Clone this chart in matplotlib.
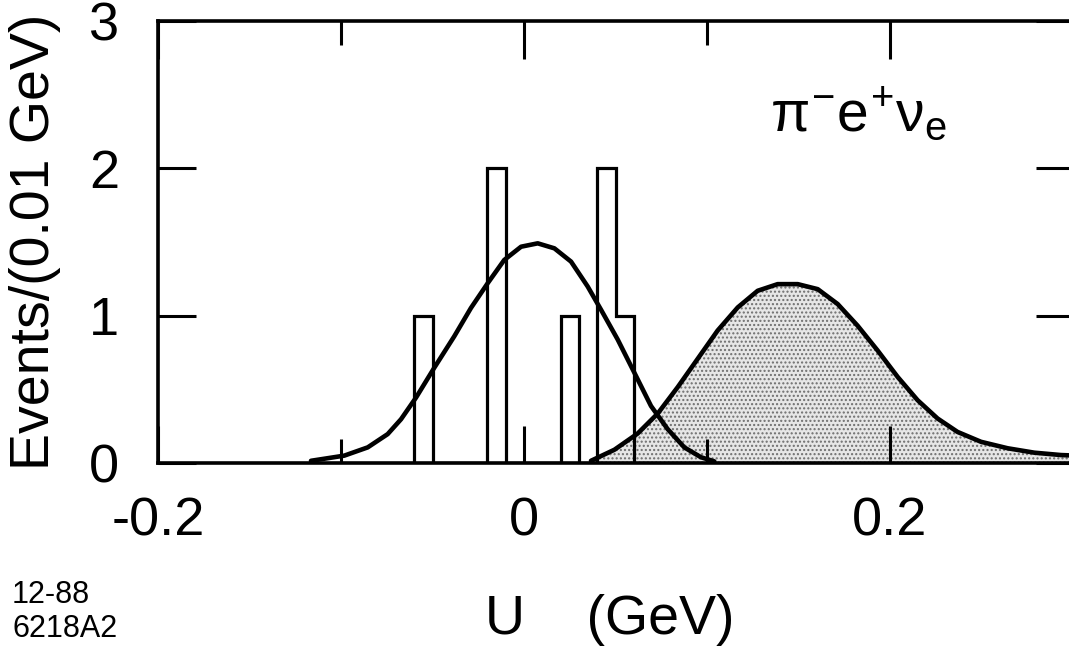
import matplotlib
matplotlib.use("Agg")
import matplotlib.pyplot as plt
from matplotlib.ticker import FixedLocator, FixedFormatter

plt.rcParams['font.family'] = ['Liberation Sans', 'DejaVu Sans']
plt.rcParams['mathtext.fontset'] = 'custom'
plt.rcParams['mathtext.rm'] = 'Liberation Sans'
plt.rcParams['mathtext.it'] = 'Liberation Sans'
plt.rcParams['mathtext.bf'] = 'Liberation Sans:bold'
plt.rcParams['hatch.linewidth'] = 1.0
plt.rcParams['hatch.color'] = '#6e6e6e'

# ---- data ----
bin_edges = [-0.06, -0.05, -0.04, -0.03, -0.02, -0.01, 0.0, 0.01, 0.02, 0.03, 0.04, 0.05, 0.06]
bin_counts = [1, 0, 0, 0, 2, 0, 0, 0, 1, 0, 2, 1]

signal_x = [-0.1164, -0.0982, -0.0854, -0.0745, -0.0672, -0.059, -0.049, -0.0381, -0.029,
            -0.0198, -0.0108, -0.0016, 0.0075, 0.0166, 0.0257, 0.0348, 0.0421, 0.0512,
            0.0603, 0.0694, 0.0785, 0.0876, 0.0967, 0.104]
signal_y = [0.015, 0.05, 0.106, 0.196, 0.297, 0.444, 0.647, 0.86, 1.052,
            1.221, 1.378, 1.468, 1.491, 1.457, 1.367, 1.198, 1.04, 0.838,
            0.613, 0.387, 0.23, 0.106, 0.039, 0.011]

bkg_x = [0.0366, 0.0494, 0.0621, 0.0731, 0.084, 0.0949, 0.1058, 0.1168, 0.1277, 0.1386,
         0.1496, 0.1605, 0.1714, 0.1823, 0.1932, 0.2042, 0.2151, 0.226, 0.2369, 0.2497,
         0.2643, 0.2789, 0.2934, 0.302]
bkg_y = [0.015, 0.09, 0.2, 0.336, 0.515, 0.707, 0.899, 1.056, 1.169, 1.214,
         1.214, 1.18, 1.079, 0.932, 0.764, 0.584, 0.426, 0.302, 0.211, 0.144,
         0.1, 0.07, 0.054, 0.05]

x_major = [-0.2, 0.0, 0.2]
x_major_labels = ['-0.2', '0', '0.2']
x_minor = [-0.1, 0.1, 0.3]
y_ticks = [0, 1, 2, 3]
y_tick_labels = ['0', '1', '2', '3']

# ---- figure ----
fig = plt.figure(figsize=(10.69, 6.55), dpi=100)
ax = fig.add_axes([158 / 1069, 1 - 463 / 655, 915 / 1069, (463 - 21) / 655])
ax.set_xlim(-0.2, 0.3)
ax.set_ylim(0, 3)

ax.fill_between(bkg_x, bkg_y, 0, facecolor='#e6e6e6', hatch='....',
                edgecolor='#6e6e6e', linewidth=0, zorder=1)
ax.plot(bkg_x, bkg_y, color='black', lw=3.3, solid_capstyle='round',
        solid_joinstyle='round', zorder=3)
ax.plot(signal_x, signal_y, color='black', lw=3.3, solid_capstyle='round',
        solid_joinstyle='round', zorder=3)
ax.stairs(bin_counts, bin_edges, baseline=0, fill=False, color='black', lw=2.3, zorder=2)

for s in ax.spines.values():
    s.set_linewidth(2.6)

ax.xaxis.set_major_locator(FixedLocator(x_major))
ax.xaxis.set_major_formatter(FixedFormatter(x_major_labels))
ax.xaxis.set_minor_locator(FixedLocator(x_minor))
ax.yaxis.set_major_locator(FixedLocator(y_ticks))
ax.yaxis.set_major_formatter(FixedFormatter(y_tick_labels))

ax.tick_params(which='both', direction='in', top=True, right=True, width=2.2, colors='black')
ax.tick_params(axis='x', which='major', length=27, labelsize=39, pad=24)
ax.tick_params(axis='x', which='minor', length=17)
ax.tick_params(axis='y', which='major', length=27, labelsize=39, pad=28)

ax.text(0.1344, 2.25, r'$\pi^{-}e^{+}\nu_{e}$', fontsize=41, ha='left', va='baseline')

fig.text(35 / 1069, 1 - 242 / 655, 'Events/(0.01 GeV)',
         rotation=90, ha='center', va='center', fontsize=40)
fig.text(610 / 1069, 1 - 620 / 655, 'U    (GeV)', ha='center', va='center', fontsize=40)

fig.text(12 / 1069, 1 - 603 / 655, '12-88', ha='left', va='baseline', fontsize=22)
fig.text(12 / 1069, 1 - 637 / 655, '6218A2', ha='left', va='baseline', fontsize=22)

fig.savefig('out.png', dpi=100)
